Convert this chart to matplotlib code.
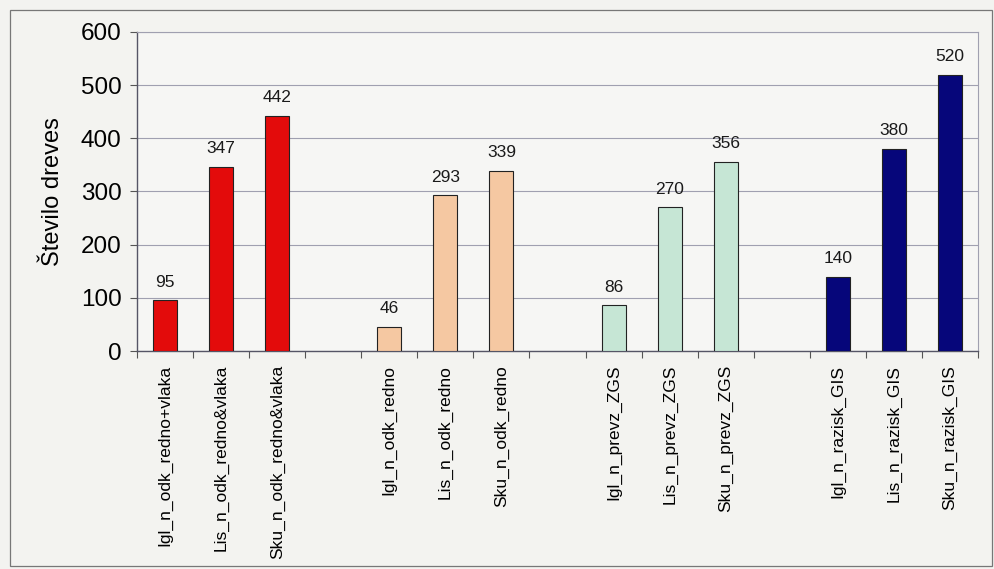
import matplotlib
matplotlib.use("Agg")
import matplotlib.pyplot as plt
from matplotlib.patches import Rectangle
import numpy as np

categories = ["Igl_n_odk_redno+vlaka", "Lis_n_odk_redno&vlaka", "Sku_n_odk_redno&vlaka", "",
              "Igl_n_odk_redno", "Lis_n_odk_redno", "Sku_n_odk_redno", "",
              "Igl_n_prevz_ZGS", "Lis_n_prevz_ZGS", "Sku_n_prevz_ZGS", "",
              "Igl_n_razisk_GIS", "Lis_n_razisk_GIS", "Sku_n_razisk_GIS"]
values = [95, 347, 442, None, 46, 293, 339, None, 86, 270, 356, None, 140, 380, 520]
group_colors = ["#e30b0b", "#f5c8a2", "#c6e6d5", "#06067a"]
yticks = [0, 100, 200, 300, 400, 500, 600]
ylabel = "Število dreves"

plt.rcParams['font.family'] = ['Liberation Sans', 'DejaVu Sans']
bg = "#f3f3f0"
fig = plt.figure(figsize=(9.94, 5.69), dpi=100, facecolor=bg)
fig.patches.append(Rectangle((10/994, 1-566/569), 982/994, 556/569, transform=fig.transFigure,
                             fill=False, edgecolor="#777777", linewidth=0.9))
ax = fig.add_axes([137/994, 1-351/569, (978-137)/994, (351-32)/569])
ax.set_facecolor("#f6f6f4")

x = np.arange(len(categories))
for i, v in enumerate(values):
    if v is None:
        continue
    c = group_colors[i // 4]
    ax.bar(x[i], v, width=0.43, color=c, edgecolor="#222222", linewidth=0.8, zorder=3)
    ax.text(x[i], v + 20, str(v), ha="center", va="bottom", fontsize=12.5, color="#1a1a1a")

ax.set_xlim(-0.5, len(categories) - 0.5)
ax.set_ylim(0, 600)
ax.set_yticks(yticks)
ax.set_yticklabels([str(t) for t in yticks], fontsize=17.5)
ax.yaxis.grid(True, color="#a0a0b0", linewidth=0.8, zorder=0)
ax.tick_params(axis="y", length=5, color="#555555", pad=6)

ax.set_xticks(np.arange(-0.5, len(categories) + 0.5, 1.0))
ax.set_xticklabels([])
ax.tick_params(axis="x", which="major", length=5, color="#555555")
ax.set_xticks(x, minor=True)
ax.set_xticklabels(categories, minor=True, rotation=90, fontsize=12.5, va="top")
ax.tick_params(axis="x", which="minor", length=0, pad=10)

for s in ["left", "bottom"]:
    ax.spines[s].set_color("#555566")
    ax.spines[s].set_linewidth(1.0)
for s in ["top", "right"]:
    ax.spines[s].set_color("#a0a0b0")
    ax.spines[s].set_linewidth(0.8)

ax.set_ylabel(ylabel, fontsize=17, labelpad=12)

fig.savefig("out.png", dpi=100, facecolor=bg)
